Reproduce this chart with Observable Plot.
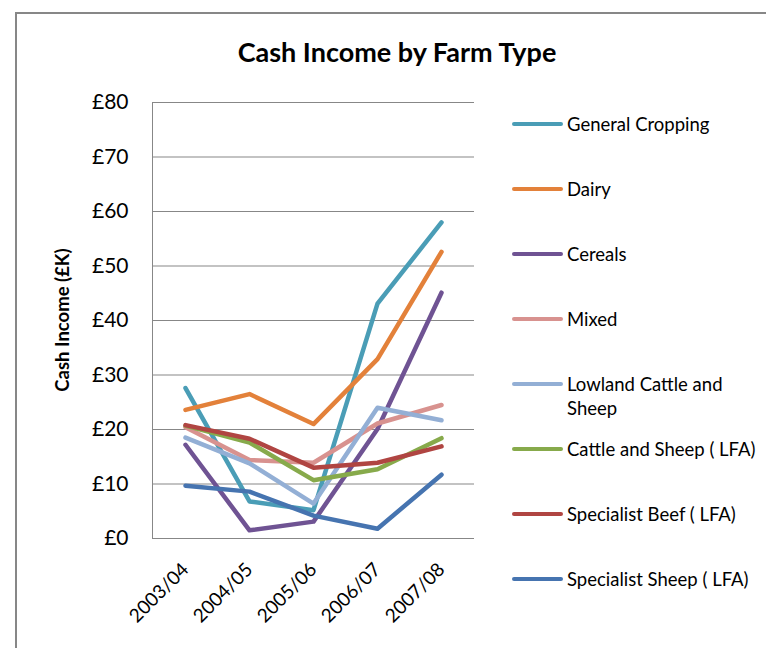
<!DOCTYPE html>
<html>
<head>
<meta charset="utf-8">
<script src="https://cdn.jsdelivr.net/npm/d3@7"></script>
<script src="https://cdn.jsdelivr.net/npm/@observablehq/plot@0.6"></script>
<style>
  html, body { margin:0; padding:0; background:#fff; overflow:hidden; }
  body { width:766px; height:648px; position:relative; font-family: Lato, "Open Sans", sans-serif; color:#000; }
  #frame { position:absolute; left:15px; top:12px; width:800px; height:700px; border-left:2px solid #878787; border-top:2px solid #878787; box-sizing:border-box; }
  #chart { position:absolute; left:0; top:0; }
  #title { position:absolute; left:0; width:794px; top:35px; text-align:center; font-size:27px; font-weight:700; line-height:34px; }
  #ytitle { position:absolute; left:62px; top:320px; transform:translate(-50%,-50%) rotate(-90deg); font-size:18.5px; font-weight:700; white-space:nowrap; }
  .leg { position:absolute; left:512px; }
  .leg .sw { position:absolute; left:0; width:51px; height:4px; border-radius:2px; }
  .leg .tx { position:absolute; left:55px; font-size:18.5px; line-height:24px; white-space:nowrap; }
</style>
</head>
<body>
<div id="frame"></div>
<div id="chart"></div>
<div id="title">Cash Income by Farm Type</div>
<div id="ytitle">Cash Income (£K)</div>
<div id="legend"></div>
<script>
const years = ["2003/04", "2004/05", "2005/06", "2006/07", "2007/08"];
const seriesNames = ["General Cropping", "Dairy", "Cereals", "Mixed", "Lowland Cattle and Sheep", "Cattle and Sheep ( LFA)", "Specialist Beef ( LFA)", "Specialist Sheep ( LFA)"];
const seriesColors = ["#4A9DB6", "#E3813A", "#6F5393", "#D8928F", "#93AFD5", "#87AA4B", "#B04542", "#4674B0"];
const generalCropping = [27.6, 6.8, 5.2, 43.1, 58.0];
const dairy = [23.6, 26.5, 21.0, 32.9, 52.6];
const cereals = [17.2, 1.5, 3.1, 20.1, 45.1];
const mixed = [20.4, 14.4, 13.9, 21.1, 24.5];
const lowlandCattleSheep = [18.5, 13.8, 6.4, 24.0, 21.7];
const cattleSheepLFA = [20.7, 17.6, 10.7, 12.7, 18.4];
const specialistBeefLFA = [20.8, 18.3, 13.0, 13.9, 16.9];
const specialistSheepLFA = [9.7, 8.6, 4.2, 1.8, 11.7];
const yTicks = [0, 10, 20, 30, 40, 50, 60, 70, 80];
const legendY = [124, 189, 254, 319, 384, 449, 514, 579];

const allSeries = [generalCropping, dairy, cereals, mixed, lowlandCattleSheep, cattleSheepLFA, specialistBeefLFA, specialistSheepLFA];
const data = [];
allSeries.forEach((vals, i) => vals.forEach((v, j) => data.push({series: seriesNames[i], year: years[j], value: v})));

const chart = Plot.plot({
  width: 766,
  height: 648,
  marginLeft: 152,
  marginRight: 292,
  marginTop: 102,
  marginBottom: 110,
  style: {fontFamily: "Lato, 'Open Sans', sans-serif", color: "#000", background: "transparent"},
  x: {type: "point", domain: years, padding: 0.5, label: null},
  y: {domain: [0, 80], label: null},
  color: {domain: seriesNames, range: seriesColors},
  marks: [
    Plot.gridY(yTicks, {stroke: "#878787", strokeOpacity: 1, strokeWidth: 1}),
    Plot.frame({anchor: "left", stroke: "#878787", strokeWidth: 1}),
    Plot.axisY(yTicks, {tickFormat: d => "£" + d, tickSize: 0, tickPadding: 24, fontSize: 21, label: null}),
    Plot.axisX({tickRotate: -45, tickSize: 0, tickPadding: 28, fontSize: 19, label: null}),
    Plot.lineY(data, {x: "year", y: "value", z: "series", stroke: "series", strokeWidth: 4.5, strokeLinejoin: "round", strokeLinecap: "round"})
  ]
});
document.getElementById("chart").appendChild(chart);

const legend = document.getElementById("legend");
seriesNames.forEach((name, i) => {
  const item = document.createElement("div");
  item.className = "leg";
  item.style.top = legendY[i] + "px";
  const sw = document.createElement("div");
  sw.className = "sw";
  sw.style.background = seriesColors[i];
  sw.style.top = "-2px";
  const tx = document.createElement("div");
  tx.className = "tx";
  tx.style.top = "-12px";
  if (name === "Lowland Cattle and Sheep") {
    tx.innerHTML = "Lowland Cattle and<br>Sheep";
  } else {
    tx.textContent = name;
  }
  item.appendChild(sw);
  item.appendChild(tx);
  legend.appendChild(item);
});
</script>
</body>
</html>
